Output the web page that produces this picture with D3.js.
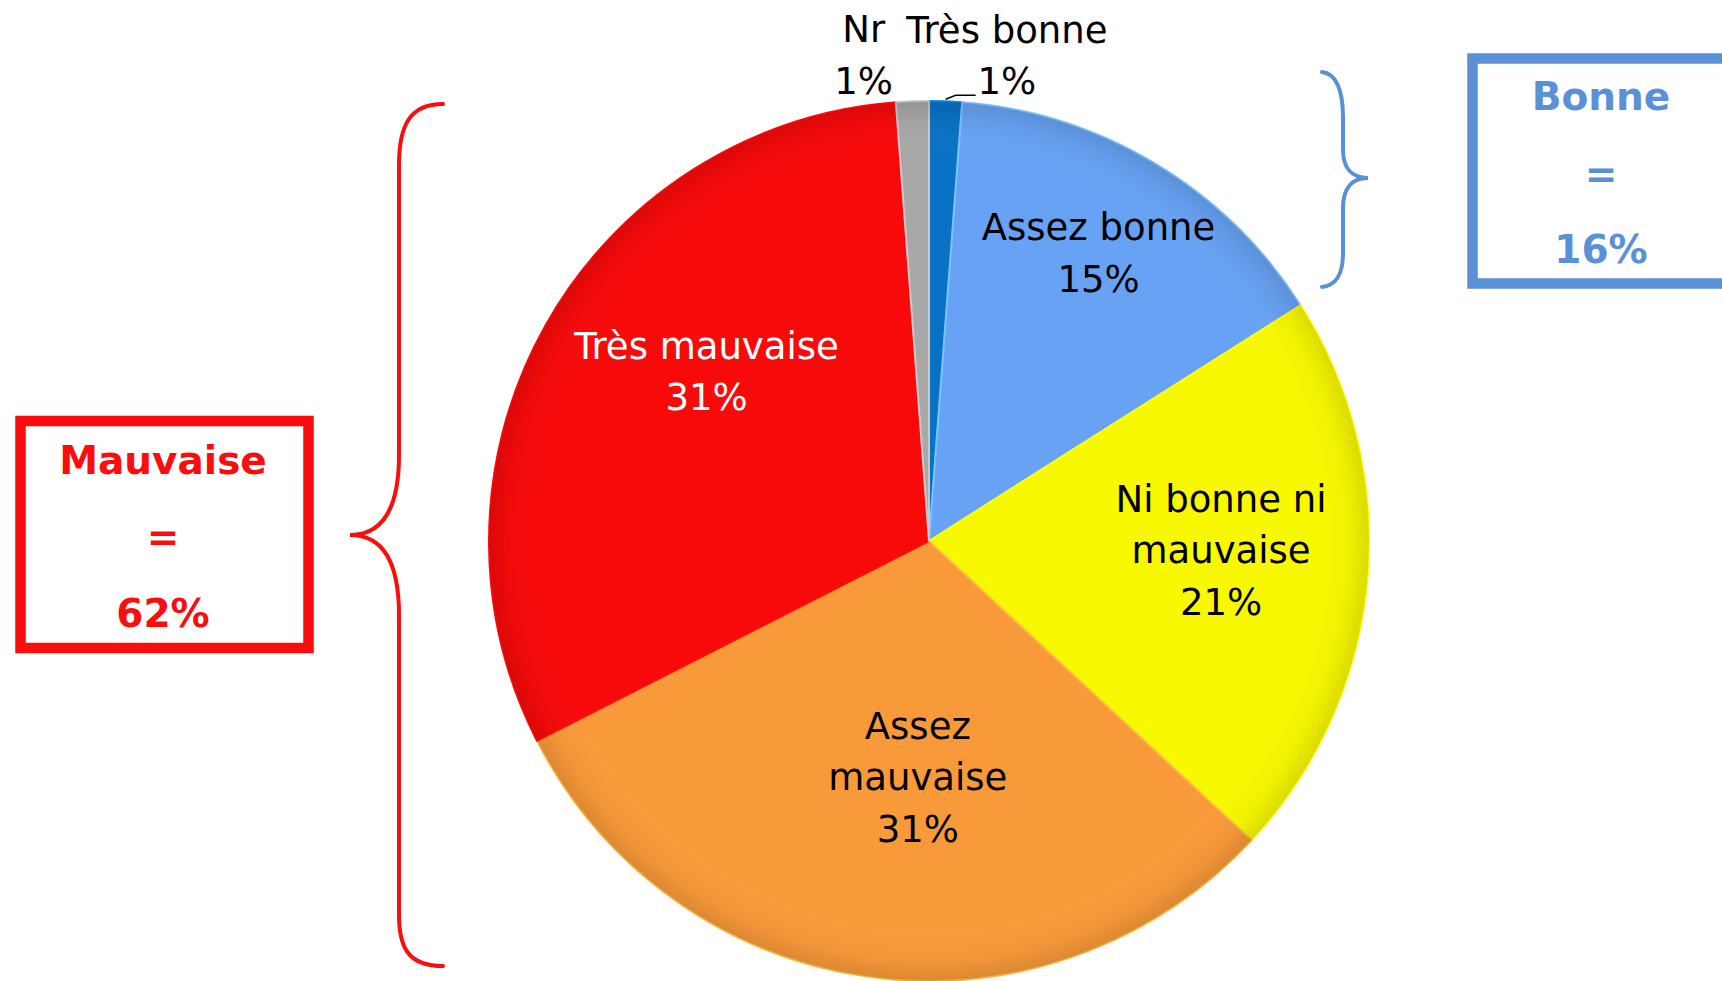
<!DOCTYPE html>
<html><head><meta charset="utf-8">
<script src="https://cdn.jsdelivr.net/npm/d3@7"></script>
<style>html,body{margin:0;padding:0;background:#fff;overflow:hidden}svg{display:block}</style>
</head><body>
<script>
// ---- data ----
const categories = ["Très bonne", "Assez bonne", "Ni bonne ni mauvaise", "Assez mauvaise", "Très mauvaise", "Nr"];
const labelLines = [["Très bonne"], ["Assez bonne"], ["Ni bonne ni", "mauvaise"], ["Assez", "mauvaise"], ["Très mauvaise"], ["Nr"]];
const values = [1.2, 14.8, 20.9, 30.6, 31.3, 1.2];
const colors = ["#0a72c4", "#68a2f4", "#f8f800", "#f99a3a", "#f80a0a", "#a8a8a8"];
const labelColors = ["#000", "#000", "#000", "#000", "#fff", "#000"];
const groupNames = ["Mauvaise", "Bonne"];
const groupTotals = ["62%", "16%"];

// ---- layout ----
const W = 1722, H = 981;
const cx = 929, cy = 541, R = 440;
const fontSize = 37, lineH = 51.5;
// label polar layout: radius fraction, angle nudge (deg)
const labelLayout = [[1.118, 6.95], [0.76, -0.5], [0.664, -3.4], [0.537, -5.2], [0.636, 8], [1.114, -5.5]];

const svg = d3.select("body").append("svg").attr("width", W).attr("height", H);
const defs = svg.append("defs");
const rg = defs.append("radialGradient").attr("id", "shade").attr("cx", "50%").attr("cy", "50%").attr("r", "50%");
rg.append("stop").attr("offset", "0%").attr("stop-color", "#fff").attr("stop-opacity", 0.0);
rg.append("stop").attr("offset", "88%").attr("stop-color", "#fff").attr("stop-opacity", 0.0);
rg.append("stop").attr("offset", "96%").attr("stop-color", "#000").attr("stop-opacity", 0.04);
rg.append("stop").attr("offset", "100%").attr("stop-color", "#000").attr("stop-opacity", 0.12);

const pie = d3.pie().sort(null).value(d => d)(values);
const arc = d3.arc().innerRadius(0).outerRadius(R);
const g = svg.append("g").attr("transform", `translate(${cx},${cy})`);

g.selectAll("path.slice").data(pie).join("path")
  .attr("class", "slice")
  .attr("d", arc)
  .attr("fill", (d, i) => colors[i])
  .attr("stroke", (d, i) => d3.color(colors[i]).brighter(0.5).formatHex())
  .attr("stroke-width", 2)
  .attr("stroke-linejoin", "round");

g.append("circle").attr("r", R).attr("fill", "url(#shade)").attr("pointer-events", "none");

// labels
const fmt = v => Math.round(v) + "%";
pie.forEach((d, i) => {
  const mid = (d.startAngle + d.endAngle) / 2 + labelLayout[i][1] * Math.PI / 180;
  const r = R * labelLayout[i][0];
  const x = Math.sin(mid) * r, y = -Math.cos(mid) * r;
  const lines = labelLines[i].concat([fmt(values[i])]);
  const t = g.append("text")
    .attr("text-anchor", "middle")
    .attr("font-family", "DejaVu Sans, Verdana, sans-serif")
    .attr("font-size", fontSize)
    .attr("fill", labelColors[i]);
  lines.forEach((ln, k) => {
    t.append("tspan").attr("x", x)
      .attr("y", y + (k - (lines.length - 1) / 2) * lineH + 13)
      .text(ln);
  });
});

// small leader line for "Très bonne"
{
  const d = pie[0];
  const a = (d.startAngle + d.endAngle) / 2;
  const px = Math.sin(a) * (R + 2), py = -Math.cos(a) * (R + 2);
  g.append("path").attr("d", `M${px},${py} L${px + 10},${py - 4} L${px + 30},${py - 4}`)
    .attr("fill", "none").attr("stroke", "#000").attr("stroke-width", 1.5);
}

// ---- braces ----
const red = "#fc0d0d", blue = "#5990d6";
svg.append("path")
  .attr("d", "M443,104 C410,104 399,125 399,165 L399,455 C399,505 385,535 350,535 C385,535 399,565 399,615 L399,915 C399,950 410,966 443,966")
  .attr("fill", "none").attr("stroke", red).attr("stroke-width", 4).attr("stroke-linecap", "round");
svg.append("path")
  .attr("d", "M1322,72 C1338,74 1343,92 1343,118 L1343,150 C1343,168 1352,178 1368,178 C1352,178 1343,188 1343,208 L1343,253 C1343,272 1338,285 1322,287")
  .attr("fill", "none").attr("stroke", blue).attr("stroke-width", 4).attr("stroke-linecap", "round");

// ---- boxes ----
const boxes = [
  {x: 20.5, y: 421, w: 288, h: 227, c: red, tx: 163, ty: [459, 536, 612]},
  {x: 1472.5, y: 58.5, w: 300, h: 225, c: blue, tx: 1601, ty: [95, 173, 248]}
];
boxes.forEach((b, i) => {
  svg.append("rect").attr("x", b.x).attr("y", b.y).attr("width", b.w).attr("height", b.h)
    .attr("fill", "#fff").attr("stroke", b.c).attr("stroke-width", 10.5);
  [groupNames[i], "=", groupTotals[i]].forEach((s, k) => {
    svg.append("text").attr("x", b.tx).attr("y", b.ty[k] + 15)
      .attr("text-anchor", "middle")
      .attr("font-family", "DejaVu Sans, Verdana, sans-serif")
      .attr("font-weight", "bold").attr("font-size", 39)
      .attr("fill", b.c).text(s);
  });
});
</script>
</body></html>
